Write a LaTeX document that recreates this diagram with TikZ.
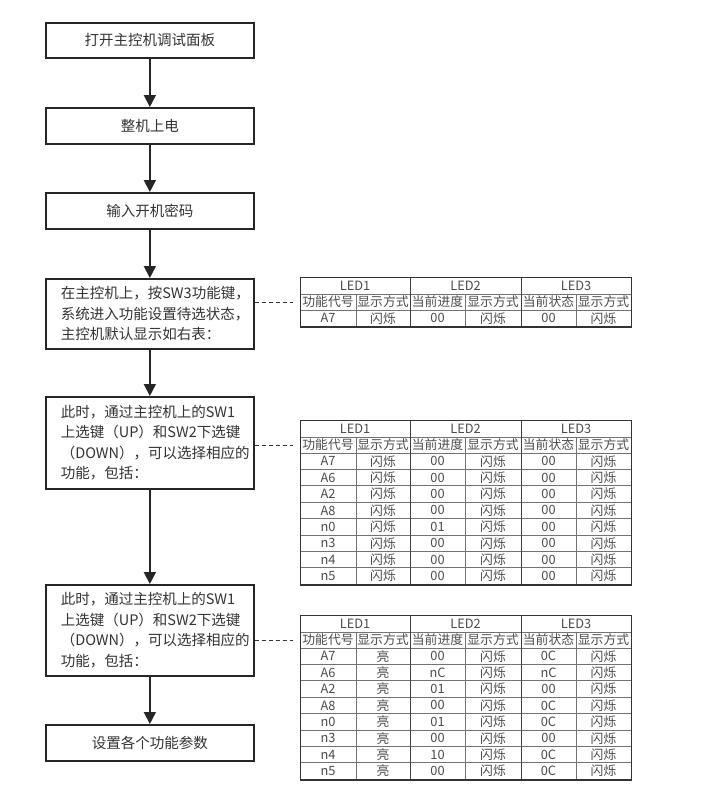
\documentclass[tikz,border=0pt]{standalone}
\usepackage{fontspec}
\setmainfont{Noto Sans CJK SC}
\usetikzlibrary{arrows.meta}

\newcommand{\ledtab}[3]{% #1 name, #2 top y, #3 rows a/b/c/d/e/f
  \pgfmathsetmacro{\tabtop}{#2}
  \pgfmathsetmacro{\tabsub}{#2+17}
  \pgfmathsetmacro{\tabdat}{#2+33}
  \def\nrows{0}
  \foreach \dummy in {#3}{\pgfmathtruncatemacro{\tmpn}{\nrows+1}\global\let\nrows\tmpn}
  \pgfmathsetmacro{\tabbot}{\tabdat+16.4*\nrows}
  \pgfmathsetmacro{\tabh}{\tabbot-\tabtop}
  % inner lines
  \draw[innerline] (300,\tabsub) -- (631,\tabsub);
  \draw[innerline] (300,\tabdat) -- (631,\tabdat);
  \foreach \k in {1,...,\nrows}{
    \pgfmathsetmacro{\yy}{\tabdat+16.4*\k}
    \draw[innerline] (300,\yy) -- (631,\yy);
  }
  \foreach \xx in {356,465,576}{\draw[innerline] (\xx,\tabsub) -- (\xx,\tabbot);}
  \foreach \xx in {410,521}{\draw[groupline] (\xx,\tabtop) -- (\xx,\tabbot);}
  \node[tabframe, minimum height=\tabh pt] (#1) at (300,\tabtop) {};
  % header
  \node[cell] (#1-h1) at (355,\tabtop+8.5) {LED1};
  \node[cell] (#1-h2) at (465.5,\tabtop+8.5) {LED2};
  \node[cell] (#1-h3) at (576,\tabtop+8.5) {LED3};
  \coordinate (#1-sub) at (300,\tabsub+8);
  \node[cell] (#1-s1) at (328,\tabsub+8) {功能代号};
  \node[cell] (#1-s2) at (383,\tabsub+8) {显示方式};
  \node[cell] (#1-s3) at (437.5,\tabsub+8) {当前进度};
  \node[cell] (#1-s4) at (493,\tabsub+8) {显示方式};
  \node[cell] (#1-s5) at (548.5,\tabsub+8) {当前状态};
  \node[cell] (#1-s6) at (603.5,\tabsub+8) {显示方式};
  \foreach \ca/\cb/\cc/\cd/\ce/\cf [count=\i] in {#3}{
    \pgfmathsetmacro{\yc}{\tabdat+16.4*\i-8.2}
    \node[cell] (#1-\i-1) at (328,\yc) {\ca};
    \node[cell] (#1-\i-2) at (383,\yc) {\cb};
    \node[cell] (#1-\i-3) at (437.5,\yc) {\cc};
    \node[cell] (#1-\i-4) at (493,\yc) {\cd};
    \node[cell] (#1-\i-5) at (548.5,\yc) {\ce};
    \node[cell] (#1-\i-6) at (603.5,\yc) {\cf};
  }
}

\begin{document}
\begin{tikzpicture}[x=1pt,y=-1pt,
  flowbox/.style={draw=black!85, line width=1.7pt, minimum width=208pt,
    anchor=north west, inner sep=0pt, text=black!80,
    font=\fontsize{14.5}{20.5}\selectfont},
  textbox/.style={flowbox, text width=178pt, align=left},
  arrowline/.style={draw=black!85, line width=1.7pt,
    -{Triangle[width=12pt,length=12pt]}},
  dashline/.style={draw=black!80, line width=1pt, dash pattern=on 4pt off 3pt, shorten >=7pt},
  innerline/.style={draw=black!55, line width=0.8pt},
  groupline/.style={draw=black!75, line width=1pt},
  tabframe/.style={draw=black!80, line width=1.4pt, minimum width=331pt,
    anchor=north west, inner sep=0pt},
  cell/.style={inner sep=0pt, text=black!70, font=\fontsize{12.8}{13}\selectfont}
]
\useasboundingbox[fill=white] (0,0) rectangle (718,792);

\node[flowbox, minimum height=35pt] (b1) at (45,22) {打开主控机调试面板};
\node[flowbox, minimum height=36pt] (b2) at (45,107) {整机上电};
\node[flowbox, minimum height=36pt] (b3) at (45,192) {输入开机密码};
\node[textbox, minimum height=70pt] (b4) at (45,278)
  {在主控机上，按SW3功能键，\\系统进入功能设置待选状态，\\主控机默认显示如右表：};
\node[textbox, minimum height=92pt] (b5) at (45,396)
  {此时，通过主控机上的SW1\\上选键（UP）和SW2下选键\\（DOWN），可以选择相应的\\功能，包括：};
\node[textbox, minimum height=91pt] (b6) at (45,584)
  {此时，通过主控机上的SW1\\上选键（UP）和SW2下选键\\（DOWN），可以选择相应的\\功能，包括：};
\node[flowbox, minimum height=36pt] (b7) at (45,724) {设置各个功能参数};

\draw[arrowline] (b1) -- (b2);
\draw[arrowline] (b2) -- (b3);
\draw[arrowline] (b3) -- (b4);
\draw[arrowline] (b4) -- (b5);
\draw[arrowline] (b5) -- (b6);
\draw[arrowline] (b6) -- (b7);

\ledtab{t1}{277}{A7/闪烁/00/闪烁/00/闪烁}
\ledtab{t2}{420}{A7/闪烁/00/闪烁/00/闪烁,A6/闪烁/00/闪烁/00/闪烁,A2/闪烁/00/闪烁/00/闪烁,A8/闪烁/00/闪烁/00/闪烁,n0/闪烁/01/闪烁/00/闪烁,n3/闪烁/00/闪烁/00/闪烁,n4/闪烁/00/闪烁/00/闪烁,n5/闪烁/00/闪烁/00/闪烁}
\ledtab{t3}{615}{A7/亮/00/闪烁/0C/闪烁,A6/亮/nC/闪烁/nC/闪烁,A2/亮/01/闪烁/00/闪烁,A8/亮/00/闪烁/0C/闪烁,n0/亮/01/闪烁/0C/闪烁,n3/亮/00/闪烁/00/闪烁,n4/亮/10/闪烁/0C/闪烁,n5/亮/00/闪烁/0C/闪烁}

\draw[dashline] (b4.east |- t1-sub) -- (t1.west |- t1-sub);
\draw[dashline] (b5.east |- t2-sub) -- (t2.west |- t2-sub);
\draw[dashline] (b6.east |- t3-sub) -- (t3.west |- t3-sub);
\end{tikzpicture}
\end{document}
